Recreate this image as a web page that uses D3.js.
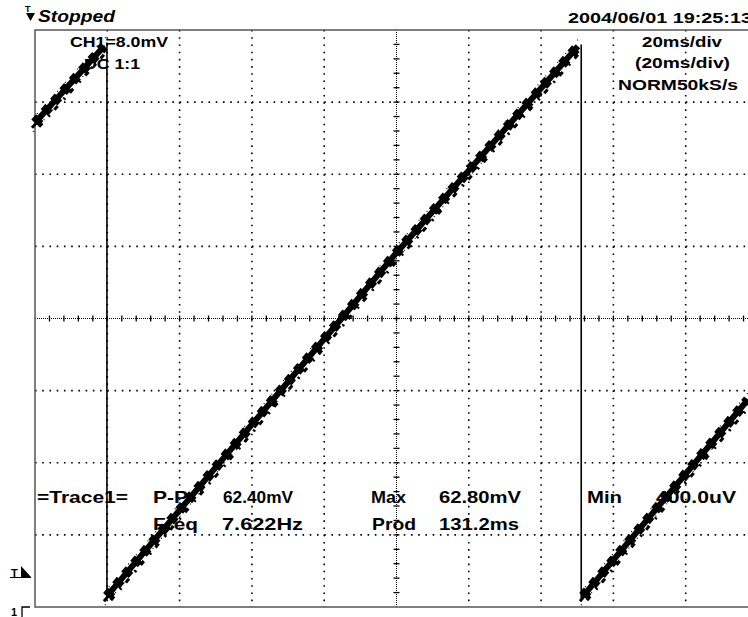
<!DOCTYPE html>
<html>
<head>
<meta charset="utf-8">
<script src="https://cdn.jsdelivr.net/npm/d3@7"></script>
<style>
  body { margin: 0; background: #fff; }
  svg { display: block; }
  text { font-family: "Liberation Sans", Arial, sans-serif; fill: #000; }
</style>
</head>
<body>
<script>
// time in ms from left edge of screen (20 ms/div), CH1 in mV (8 mV/div, 0 at bottom)
var xDivs = [20, 40, 60, 80, 120, 140, 160, 180];
var yDivs = [8, 16, 24, 40, 48, 56];
var centerT = 100, centerV = 32;

// the three ramps of the sawtooth
var ramp1T = [0, 19.1];
var ramp1V = [53.7, 62.2];
var ramp2T = [19.9, 85.2, 100, 150.2];
var ramp2V = [1.2, 32.2, 39.3, 62.2];
var ramp3T = [151.6, 197.2];
var ramp3V = [1.2, 23.0];
// fast falling edges
var edgeT = [19.9, 151.1];
var edgeTop = [62.6, 62.4];
var edgeBot = [1.0, 1.0];

var headLabels = ["Stopped", "2004/06/01  19:25:13"];
var chanLabels = ["CH1=8.0mV", "DC  1:1"];
var timeLabels = ["20ms/div", "(20ms/div)", "NORM50kS/s"];
var measNames = ["=Trace1=", "P-P", "Freq", "Max", "Prod", "Min"];
var measValues = ["62.40mV", "7.622Hz", "62.80mV", "131.2ms", "400.0uV"];

var width = 748, height = 617;
var svg = d3.select("body").append("svg")
    .attr("width", width).attr("height", height);

var x = d3.scaleLinear().domain([0, 200]).range([35, 758]);
var y = d3.scaleLinear().domain([0, 64]).range([607, 30]);

// graticule
var grid = svg.append("g");
grid.selectAll("line.vx").data(xDivs).enter().append("line")
    .attr("x1", function (d) { return x(d); }).attr("x2", function (d) { return x(d); })
    .attr("y1", y(64)).attr("y2", y(0))
    .attr("stroke", "#000").attr("stroke-width", 1.6)
    .attr("stroke-dasharray", "1.6,5.61");
grid.selectAll("line.hy").data(yDivs).enter().append("line")
    .attr("y1", function (d) { return y(d); }).attr("y2", function (d) { return y(d); })
    .attr("x1", x(0)).attr("x2", width)
    .attr("stroke", "#000").attr("stroke-width", 1.6)
    .attr("stroke-dasharray", "1.6,5.63");

// centre axes with minor ticks
grid.append("line").attr("x1", x(centerT)).attr("x2", x(centerT))
    .attr("y1", y(64)).attr("y2", y(0))
    .attr("stroke", "#000").attr("stroke-width", 1).attr("stroke-dasharray", "1,1");
grid.append("line").attr("y1", y(centerV)).attr("y2", y(centerV))
    .attr("x1", x(0)).attr("x2", width)
    .attr("stroke", "#000").attr("stroke-width", 1).attr("stroke-dasharray", "1,1");
var tTicks = d3.range(4, 200, 4), vTicks = d3.range(1.6, 64, 1.6);
grid.selectAll("line.tt").data(tTicks).enter().append("line")
    .attr("x1", function (d) { return x(d); }).attr("x2", function (d) { return x(d); })
    .attr("y1", y(centerV) - 3).attr("y2", y(centerV) + 3)
    .attr("stroke", "#000").attr("stroke-width", 1.3);
grid.selectAll("line.vt").data(vTicks).enter().append("line")
    .attr("y1", function (d) { return y(d); }).attr("y2", function (d) { return y(d); })
    .attr("x1", x(centerT) - 3).attr("x2", x(centerT) + 3)
    .attr("stroke", "#000").attr("stroke-width", 1.3);

// frame
svg.append("path")
    .attr("d", "M" + width + "," + y(64) + "H" + x(0) + "V" + y(0) + "H" + width)
    .attr("fill", "none").attr("stroke", "#555").attr("stroke-width", 1.5);

// texts
function label(txt, px, py, size, len, opts) {
    var t = svg.append("text").attr("x", px).attr("y", py)
        .attr("font-size", size).attr("font-weight", "bold")
        .attr("textLength", len).attr("lengthAdjust", "spacingAndGlyphs")
        .text(txt);
    if (opts) t.attr("font-style", opts);
    return t;
}
label(headLabels[0], 38, 22, 16, 77, "italic");
label(headLabels[1], 568, 23, 15, 184);
label(chanLabels[0], 70, 47, 15, 98);
label(chanLabels[1], 84, 69, 15, 56);
label(timeLabels[0], 642, 47, 15, 80);
label(timeLabels[1], 635, 68, 15, 95);
label(timeLabels[2], 618, 90, 15, 120);

label(measNames[0], 37, 503, 17, 91);
label(measNames[1], 153, 503, 17, 35);
label(measValues[0], 223, 503, 17, 70);
label(measNames[2], 153, 530, 17, 45);
label(measValues[1], 222, 530, 17, 81);
label(measNames[3], 371, 503, 17, 35);
label(measValues[2], 439, 503, 17, 82);
label(measNames[4], 372, 530, 17, 44);
label(measValues[3], 439, 530, 17, 80);
label(measNames[5], 587, 503, 17, 35);
label(measValues[4], 656, 503, 17, 80);

// markers
svg.append("text").attr("x", 25).attr("y", 12).attr("font-size", 9).attr("font-weight", "bold").text("T");
svg.append("path").attr("d", "M26,13H35L30.5,21Z").attr("fill", "#000");
svg.append("text").attr("x", 11).attr("y", 577).attr("font-size", 11).attr("font-weight", "bold").text("T");
svg.append("path").attr("d", "M21,566L31,577H21Z").attr("fill", "#000");
svg.append("line").attr("x1", 10).attr("x2", 31).attr("y1", 577.5).attr("y2", 577.5)
    .attr("stroke", "#000").attr("stroke-width", 1);
svg.append("text").attr("x", 11).attr("y", 616).attr("font-size", 11).attr("font-weight", "bold").text("1");
svg.append("path").attr("d", "M30,607H22V617").attr("fill", "none").attr("stroke", "#000").attr("stroke-width", 1.3);

// trace: a thick band with stepped, jagged edges
var line = d3.line().x(function (d) { return x(d[0]); }).y(function (d) { return y(d[1]); });
var ramps = [d3.zip(ramp1T, ramp1V), d3.zip(ramp2T, ramp2V), d3.zip(ramp3T, ramp3V)];
var trace = svg.append("g");
trace.selectAll("line.edge").data(edgeT).enter().append("line")
    .attr("x1", function (d) { return x(d); }).attr("x2", function (d) { return x(d); })
    .attr("y1", function (d, i) { return y(edgeTop[i]); })
    .attr("y2", function (d, i) { return y(edgeBot[i]); })
    .attr("stroke", "#000").attr("stroke-width", 1.6);
trace.selectAll("path.core").data(ramps).enter().append("path")
    .attr("d", line).attr("fill", "none").attr("stroke", "#000").attr("stroke-width", 6);
trace.selectAll("path.blob").data(ramps).enter().append("path")
    .attr("d", line).attr("fill", "none").attr("stroke", "#000").attr("stroke-width", 10)
    .attr("stroke-dasharray", "7,7");
// step edges above and below the band
[[-3, 5, "6,8,3,6"], [4, 4, "5,9,2,7"]].forEach(function (o) {
    trace.selectAll(null).data(ramps).enter().append("path")
        .attr("d", line).attr("transform", "translate(" + o[0] + "," + o[1] + ")")
        .attr("fill", "none").attr("stroke", "#000").attr("stroke-width", 3)
        .attr("stroke-dasharray", o[2]);
});
[[2, -9, "1,11,1,17"], [-2, 9, "1,15,1,12"]].forEach(function (o) {
    trace.selectAll(null).data(ramps).enter().append("path")
        .attr("d", line).attr("transform", "translate(" + o[0] + "," + o[1] + ")")
        .attr("fill", "none").attr("stroke", "#000").attr("stroke-width", 1.2)
        .attr("stroke-dasharray", o[2]);
});
</script>
</body>
</html>
